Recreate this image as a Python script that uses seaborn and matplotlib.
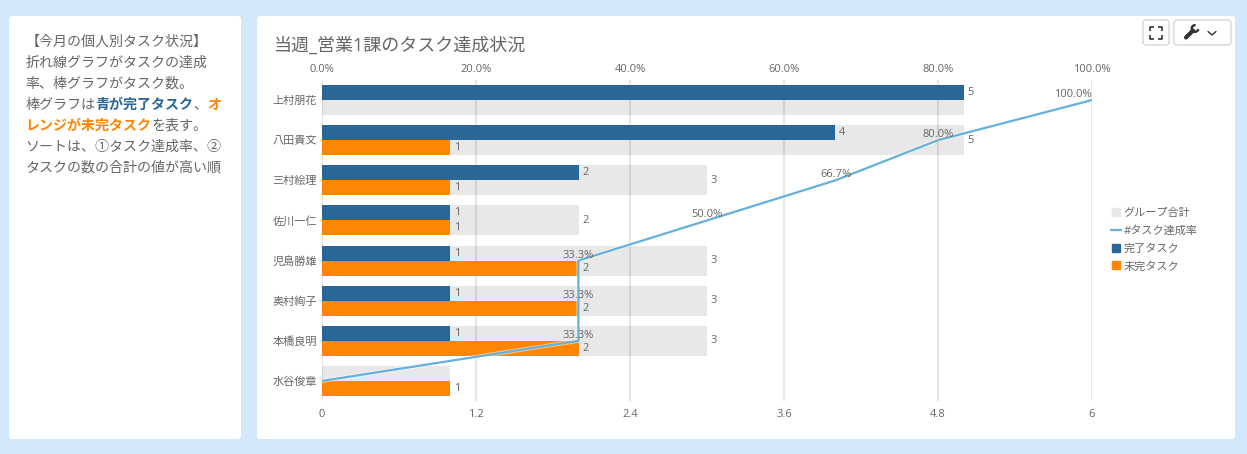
import numpy as np
import pandas as pd
import matplotlib as mpl
import matplotlib.pyplot as plt
import matplotlib.patheffects as pe
import seaborn as sns
from matplotlib.lines import Line2D
from matplotlib.patches import FancyBboxPatch, Wedge

# chart data
names = ['上村朋花', '八田貴文', '三村絵理', '佐川一仁', '児島勝雄', '奥村絢子', '本橋良明', '水谷俊章']
done = [5, 4, 2, 1, 1, 1, 1, 0]
todo = [0, 1, 1, 1, 2, 2, 2, 1]
total = [5, 5, 3, 2, 3, 3, 3, 1]
rate = [100.0, 80.0, 66.7, 50.0, 33.3, 33.3, 33.3, 0.0]

done_labels = ['5', '4', '2', '1', '1', '1', '1', '']
todo_labels = ['', '1', '1', '1', '2', '2', '2', '1']
total_labels = ['', '5', '3', '2', '3', '3', '3', '']
rate_labels = ['100.0%', '80.0%', '66.7%', '50.0%', '33.3%', '33.3%', '33.3%', '']

bottom_ticks = [0, 1.2, 2.4, 3.6, 4.8, 6]
bottom_ticklabels = ['0', '1.2', '2.4', '3.6', '4.8', '6']
top_ticks = [0, 20, 40, 60, 80, 100]
top_ticklabels = ['0.0%', '20.0%', '40.0%', '60.0%', '80.0%', '100.0%']

title = '当週_営業1課のタスク達成状況'
legend_names = ['グループ合計', '#タスク達成率', '完了タスク', '未完タスク']

GREY = '#666666'
BLUE = '#2a6799'
ORANGE = '#ff8604'
LINE = '#65b0dc'

# left panel text, one list per line: (text, colour, bold)
note_lines = [
    [('【今月の個人別タスク状況】', GREY, False)],
    [('折れ線グラフがタスクの達成', GREY, False)],
    [('率、棒グラフがタスク数。', GREY, False)],
    [('棒グラフは', GREY, False), ('青が完了タスク', BLUE, True), ('、', GREY, False), ('オ', ORANGE, True)],
    [('レンジが未完タスク', ORANGE, True), ('を表す。', GREY, False)],
    [('ソートは、①タスク達成率、②', GREY, False)],
    [('タスクの数の合計の値が高い順', GREY, False)],
]

W, H = 1247, 454

sns.set_theme(style='white')
plt.rcParams['font.family'] = ['Open Sans', 'Noto Sans CJK JP', 'DejaVu Sans']
plt.rcParams['text.color'] = GREY
plt.rcParams['xtick.color'] = GREY
plt.rcParams['ytick.color'] = GREY

fig = plt.figure(figsize=(W / 100, H / 100), dpi=100, facecolor='#d4e8fb')

# page background, works in pixels
bg = fig.add_axes([0, 0, 1, 1], zorder=0)
bg.set_xlim(0, W)
bg.set_ylim(H, 0)
bg.axis('off')


def card(x0, y0, x1, y1, edge='none', face='white', r=3):
    bg.add_patch(FancyBboxPatch((x0 + r, y0 + r), x1 - x0 - 2 * r, y1 - y0 - 2 * r,
                                boxstyle='round,pad=%d,rounding_size=%d' % (r, r),
                                fc=face, ec=edge, lw=0.8))


card(9, 16, 241, 439)
card(257, 16, 1235, 439)

# toolbar buttons
card(1143, 20, 1169, 45, edge='#cccccc')
card(1174, 20, 1231, 45, edge='#cccccc')
ICON = '#333333'
for cx, cy, dx, dy in [(1150, 27, 1, 1), (1162, 27, -1, 1), (1150, 39, 1, -1), (1162, 39, -1, -1)]:
    bg.plot([cx + 4 * dx, cx, cx], [cy, cy, cy + 4 * dy], color=ICON, lw=1.2, solid_capstyle='butt')
bg.plot([1186, 1193], [37.5, 30.5], color=ICON, lw=3, solid_capstyle='round')
bg.add_patch(Wedge((1195, 28.5), 4.5, 10, 280, width=2.4, fc=ICON, ec='none'))
bg.plot([1208, 1212, 1216], [31.5, 35, 31.5], color=ICON, lw=1)

bg.text(273.5, 46, title, fontsize=13, va='center', ha='left', color=GREY)

# left note, full width characters so each run moves on by 14px a character
for i, parts in enumerate(note_lines):
    x = 25.5
    for s, c, bold in parts:
        bg.text(x, 41.5 + 21 * i, s, fontsize=10.1, va='center', ha='left', color=c,
                fontweight='bold' if bold else 'normal',
                family=['Noto Sans CJK JP', 'DejaVu Sans'])
        x += len(s) * 14

# main axes
ax = fig.add_axes([322 / W, 1 - 401 / H, 770 / W, 321 / H], zorder=1)
ax.patch.set_alpha(0)

df_total = pd.DataFrame({'name': names, 'value': total})
sns.barplot(data=df_total, x='value', y='name', order=names, color='black', alpha=0.09,
            saturation=1, width=0.75, linewidth=0, ax=ax, zorder=1)
total_bars = ax.containers[0]

df = pd.DataFrame({'name': names, '完了タスク': done, '未完タスク': todo})
df = df.melt(id_vars='name', var_name='kind', value_name='value')
sns.barplot(data=df, x='value', y='name', hue='kind', order=names,
            palette={'完了タスク': BLUE, '未完タスク': ORANGE}, saturation=1,
            width=0.75, linewidth=0, legend=False, ax=ax, zorder=2)
done_bars, todo_bars = ax.containers[1], ax.containers[2]

ax.bar_label(total_bars, labels=total_labels, padding=2.8, fontsize=8, color=GREY)
ax.bar_label(done_bars, labels=done_labels, padding=2.8, fontsize=8, color=GREY)
ax.bar_label(todo_bars, labels=todo_labels, padding=2.8, fontsize=8, color=GREY)

ax.set_xlim(0, 6)
ax.set_xticks(bottom_ticks)
ax.set_xticklabels(bottom_ticklabels)
ax.set_xlabel('')
ax.set_ylabel('')
ax.set_axisbelow(True)
ax.grid(axis='x', color='#e6e6e6', lw=1.5)
ax.grid(axis='y', visible=False)
ax.tick_params(axis='x', length=0, labelsize=8, pad=6)
ax.tick_params(axis='y', length=0, labelsize=8, pad=3.5)
sns.despine(ax=ax, left=True, bottom=True)

# rate line on the top axis
top = ax.twiny()
top.patch.set_alpha(0)
rows = np.arange(len(names))
sns.lineplot(x=rate, y=rows, sort=False, estimator=None, color=LINE, lw=1.6, ax=top,
             path_effects=[pe.Stroke(linewidth=3, foreground='white', alpha=0.5), pe.Normal()])
top.set_xlim(0, 100)
top.set_ylim(7.5, -0.5)
top.set_xticks(top_ticks)
top.set_xticklabels(top_ticklabels)
top.set_xlabel('')
top.set_ylabel('')
top.grid(False)
top.tick_params(axis='x', length=0, labelsize=8, pad=3.5)
sns.despine(ax=top, left=True, bottom=True, top=True, right=True)

for r, y, s in zip(rate, rows, rate_labels):
    if s:
        top.annotate(s, (r, y), xytext=(0, 0), textcoords='offset points', fontsize=8, color=GREY,
                     ha='right' if r == 100 else 'center', va='bottom')

handles = [
    Line2D([], [], ls='', marker='s', ms=6.3, color='#e8e8e8'),
    Line2D([], [], color=LINE, lw=1.6),
    Line2D([], [], ls='', marker='s', ms=6.3, color=BLUE),
    Line2D([], [], ls='', marker='s', ms=6.3, color=ORANGE),
]
top.legend(handles, legend_names, loc='center left', bbox_to_anchor=(1111 / W, 1 - 240 / H),
           bbox_transform=fig.transFigure, frameon=False, fontsize=8, labelcolor=GREY,
           handlelength=0.9, handletextpad=0.23, labelspacing=0.62, borderpad=0, borderaxespad=0)

fig.savefig('out.png', dpi=100, facecolor=fig.get_facecolor())
